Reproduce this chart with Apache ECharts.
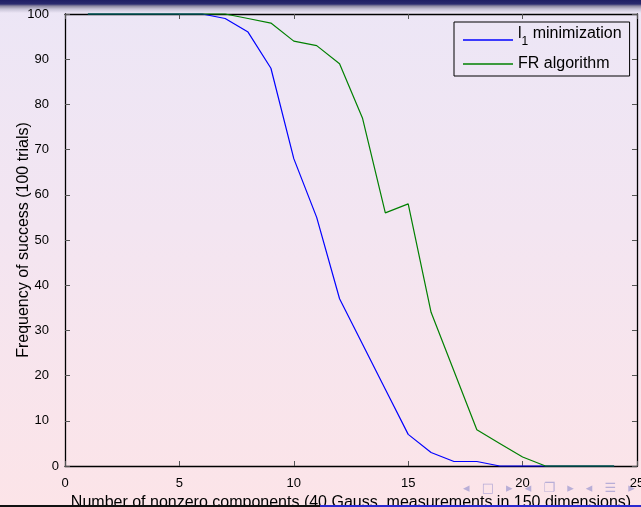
<!DOCTYPE html>
<html>
<head>
<meta charset="utf-8">
<script src="https://cdn.jsdelivr.net/npm/echarts@6/dist/echarts.min.js"></script>
<style>
  html, body { margin: 0; padding: 0; }
  body { width: 641px; height: 507px; overflow: hidden; position: relative;
         background: linear-gradient(to bottom, #ece6f6 0%, #f3e5f1 45%, #fce4e8 100%); }
  #header { position: absolute; left: 0; top: 0; width: 641px; height: 13px;
            background: linear-gradient(to bottom, #1e1e64 0px, #2a2a6e 4px, #8a86a0 6px, #c6c2d6 9px, rgba(236,230,246,0) 13px); }
  #chart { position: absolute; left: 0; top: 0; width: 641px; height: 507px; }
  #foot1 { position: absolute; left: 0; bottom: 0; width: 320px; height: 2px; background: #111; }
  #foot2 { position: absolute; left: 320px; bottom: 0; width: 321px; height: 2px; background: #2a2ad0; }
  #nav { position: absolute; left: 463px; top: 480px; font: 13px 'DejaVu Sans', sans-serif;
         color: rgba(130,130,200,0.55); white-space: nowrap; letter-spacing: 4px; }
</style>
</head>
<body>
<div id="header"></div>
<div id="chart"></div>
<div id="foot1"></div>
<div id="foot2"></div>
<div id="nav">◂ □ ▸ ◂ ❐ ▸ ◂ ☰ ▸ ◂</div>
<script>
const components = [1,2,3,4,5,6,7,8,9,10,11,12,13,14,15,16,17,18,19,20,21,22,23,24];
const l1Minimization = [100,100,100,100,100,100,99,96,88,68,55,37,27,17,7,3,1,1,0,0,0,0,0,0];
const frAlgorithm = [100,100,100,100,100,100,100,99,98,94,93,89,77,56,58,34,21,8,5,2,0,0,0,0];
const xTicks = [0,5,10,15,20,25];
const yTicks = [0,10,20,30,40,50,60,70,80,90,100];

const tickFont = "'Liberation Sans Narrow', 'Arial Narrow', 'Liberation Sans', Arial, sans-serif";
const mainFont = "'Liberation Sans', Arial, Helvetica, sans-serif";

const chart = echarts.init(document.getElementById('chart'));
const axisBase = {
  type: 'value',
  splitLine: { show: false },
  axisLine: { show: true, onZero: false, lineStyle: { color: '#000', width: 1.3 } },
  axisTick: { show: true, inside: true, length: 5, lineStyle: { color: '#555', width: 1 } }
};
chart.setOption({
  backgroundColor: 'transparent',
  animation: false,
  grid: { left: 65, right: 4, top: 14, bottom: 41, containLabel: false, outerBoundsMode: 'none' },
  xAxis: [
    Object.assign({}, axisBase, {
      min: xTicks[0], max: xTicks[xTicks.length - 1], interval: 5, position: 'bottom',
      name: 'Number of nonzero components (40 Gauss. measurements in 150 dimensions)',
      nameLocation: 'middle', nameGap: 29, nameMoveOverlap: false,
      nameTextStyle: { fontFamily: mainFont, fontSize: 16, color: '#000' },
      axisLabel: { margin: 11, fontFamily: tickFont, fontSize: 13, color: '#000', showMaxLabel: true }
    }),
    Object.assign({}, axisBase, {
      min: xTicks[0], max: xTicks[xTicks.length - 1], interval: 5, position: 'top',
      axisLabel: { show: false }
    })
  ],
  yAxis: [
    Object.assign({}, axisBase, {
      min: yTicks[0], max: yTicks[yTicks.length - 1], interval: 10, position: 'left',
      name: 'Frequency of success (100 trials)',
      nameLocation: 'middle', nameGap: 33, nameMoveOverlap: false,
      nameTextStyle: { fontFamily: mainFont, fontSize: 16, color: '#000' },
      axisLabel: {
        margin: 6, fontFamily: tickFont, fontSize: 13, color: '#000',
        formatter: v => v === 0 ? '{z|0}' : '{n|' + v + '}',
        rich: {
          z: { fontFamily: tickFont, fontSize: 13, color: '#000' },
          n: { fontFamily: tickFont, fontSize: 13, color: '#000', padding: [0, 10, 0, 0] }
        }
      }
    }),
    Object.assign({}, axisBase, {
      min: yTicks[0], max: yTicks[yTicks.length - 1], interval: 10, position: 'right',
      axisLabel: { show: false }
    })
  ],
  legend: {
    show: true,
    left: 454, top: 22,
    orient: 'vertical',
    borderColor: '#000', borderWidth: 1,
    backgroundColor: 'transparent',
    padding: [4, 8, 4, 9],
    itemGap: 2,
    itemWidth: 50, itemHeight: 1.5,
    icon: 'rect',
    textStyle: { fontFamily: mainFont, fontSize: 16, color: '#000', lineHeight: 16,
      rich: {
        a: { fontFamily: mainFont, fontSize: 16, color: '#000', lineHeight: 16, padding: [0, 0, 12, 0] },
        s: { fontFamily: mainFont, fontSize: 12, color: '#000', lineHeight: 12, padding: [10, 0, 6, 0] }
      }
    },
    formatter: name => name === 'l1 minimization' ? '{a|l}{s|1}{a| minimization}' : name,
    data: ['l1 minimization', 'FR algorithm']
  },
  series: [
    {
      name: 'l1 minimization', type: 'line', xAxisIndex: 0, yAxisIndex: 0,
      data: components.map((c, i) => [c, l1Minimization[i]]),
      showSymbol: false, symbol: 'none', clip: false,
      lineStyle: { color: '#0000ff', width: 1.2 }, itemStyle: { color: '#0000ff' }
    },
    {
      name: 'FR algorithm', type: 'line', xAxisIndex: 0, yAxisIndex: 0,
      data: components.map((c, i) => [c, frAlgorithm[i]]),
      showSymbol: false, symbol: 'none', clip: false,
      lineStyle: { color: '#008000', width: 1.2 }, itemStyle: { color: '#008000' }
    }
  ]
});
</script>
</body>
</html>
